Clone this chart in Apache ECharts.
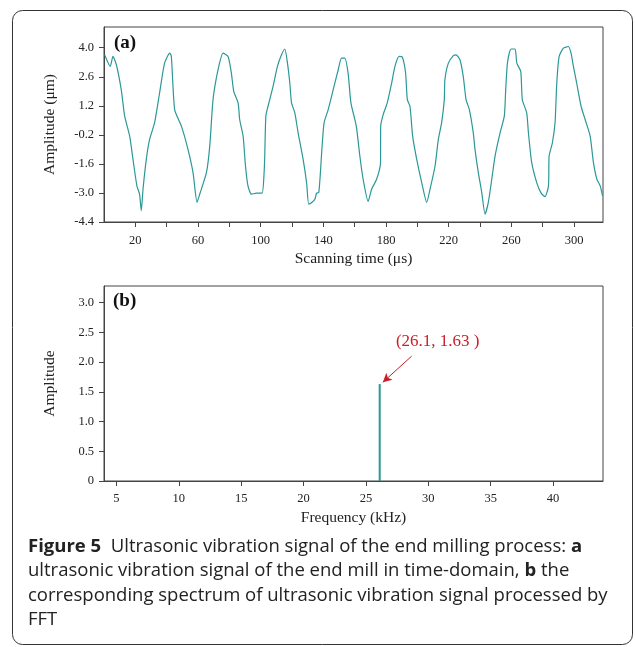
<!DOCTYPE html>
<html><head><meta charset="utf-8">
<script src="https://cdn.jsdelivr.net/npm/echarts@6/dist/echarts.min.js"></script>
<style>html,body{margin:0;padding:0;background:#fff}#c{width:635px;height:647px}</style>
</head><body><div id="c"></div>
<script>
// (a) time-domain signal
const timeUs = [0.4,4.0,5.7,7.9,11,13.2,16.4,18.5,21.0,22.7,23.8,24.9,27.0,29.1,32.3,35.5,38.7,42.0,43,45.1,49.4,53.6,56.8,59.4,61.1,65.4,67.5,69.6,72.8,76.0,79.2,81.3,82.8,85.6,86.6,88.8,90.3,91.9,94.1,97.3,100.9,102.2,102.6,103.3,104.7,107.9,110.7,113.3,115.4,117.1,118.6,119.7,121.8,123.9,127.1,129.3,130.7,132.8,134.6,135.7,137.1,138.4,139.2,140.5,143.1,146.3,149.5,151.6,153.7,155.8,157.6,160.1,161.2,163.3,165.4,168.6,170.8,174.0,176.5,176.6,178.2,180.8,183.6,185.7,188.4,190.4,192.5,193.6,195.3,197.0,199.6,202.8,206.0,208.1,211.3,213.4,215.5,217.2,217.6,219.8,223.0,224.7,227.2,229.3,231.1,233.2,235.7,236.8,238.9,241.1,243.2,245.3,247.5,249.6,252.8,255.5,256.4,257.5,259.8,262.4,263.5,266.0,267.0,269.8,270.9,273.0,276.2,279.0,281.5,283.7,284.1,286.2,287.9,289.0,290.5,293.2,296.4,298.1,299.6,301.7,304.5,307.1,310.3,312.4,314.6,316.7,318.2];
const amplitudeUm = [3.66,3.1,3.58,3.18,1.98,0.70,-0.26,-1.38,-2.66,-3.06,-3.86,-2.82,-1.38,-0.42,0.39,1.83,3.27,3.74,3.58,1.02,0.22,-0.9,-2.01,-3.45,-3.06,-2.01,-0.74,1.5,2.94,3.74,3.58,2.78,1.9,1.34,0.54,-0.26,-1.70,-2.66,-3.06,-3.01,-3.01,-2.01,-1.22,0.70,1.18,2.14,3.10,3.66,3.94,3.26,2.30,1.34,0.86,-0.1,-1.38,-2.5,-3.54,-3.45,-3.3,-3.01,-2.97,-1.70,-0.74,0.39,1.02,1.98,2.94,3.5,3.5,2.78,1.34,0.54,0.15,-1.22,-2.34,-3.41,-2.82,-2.34,-1.54,0.22,0.78,1.34,2.30,3.10,3.58,3.55,2.78,1.5,1.18,-0.26,-1.38,-2.5,-3.45,-2.82,-1.7,-0.42,0.39,1.5,2.46,3.26,3.62,3.66,3.42,2.62,1.5,1.02,-0.1,-0.9,-2.01,-2.97,-4.02,-3.45,-2.34,-1.22,-0.1,0.70,1.98,3.26,3.94,3.94,3.26,2.86,1.5,0.86,-0.1,-1.54,-2.5,-3.01,-3.18,-2.66,-1.22,-0.58,0.39,2.30,3.58,3.98,4.06,3.74,3.10,2.30,1.18,0.54,-0.26,-1.54,-2.34,-2.66,-3.14];
const timeTickLabels = [20,60,100,140,180,220,260,300];
const timeTicks = [20,40,60,80,100,120,140,160,180,200,220,240,260,280,300];
const ampTickLabels = [-4.4,-3.0,-1.6,-0.2,1.2,2.6,4.0];
// (b) spectrum
const peakFreq = 26.1;
const peakAmp = 1.63;
const freqTickLabels = [5,10,15,20,25,30,35,40];
const specTickLabels = [0,0.5,1.0,1.5,2.0,2.5,3.0];

const serif = '"Liberation Serif","DejaVu Serif",serif';
const teal = '#2a9896';
const axisCol = '#444';
function valueAxis(extra){
  return Object.assign({
    type:'value', nameLocation:'middle',
    nameTextStyle:{fontFamily:serif, fontSize:15.5, color:'#222'},
    axisLine:{show:true, onZero:false, lineStyle:{color:axisCol, width:1}},
    axisTick:{show:true, length:5, inside:false, lineStyle:{color:axisCol}},
    axisLabel:{fontFamily:serif, fontSize:12.5, color:'#222', margin:9},
    splitLine:{show:false}
  }, extra);
}
const chart = echarts.init(document.getElementById('c'), null, {renderer:'canvas'});
const capFont = '18.5px "Open Sans"';
const capRich = {b:{fontWeight:'bold', fontFamily:'Open Sans', fontSize:18.5, fill:'#222'}};
chart.setOption({
  animation:false,
  backgroundColor:'#fff',
  grid:[
    {left:104, top:27, width:499, height:195, show:true, borderColor:axisCol, borderWidth:1, backgroundColor:'transparent'},
    {left:104, top:286, width:499, height:195, show:true, borderColor:axisCol, borderWidth:1, backgroundColor:'transparent'}
  ],
  xAxis:[
    valueAxis({gridIndex:0, min:0, max:318.5, name:'Scanning time (μs)', nameGap:29,
      axisTick:{show:true, length:5, lineStyle:{color:axisCol}, customValues:timeTicks},
      axisLabel:{fontFamily:serif, fontSize:12.5, color:'#222', margin:12, customValues:timeTickLabels}}),
    valueAxis({gridIndex:1, min:4, max:44, name:'Frequency (kHz)', nameGap:29,
      axisTick:{show:true, length:5, lineStyle:{color:axisCol}, customValues:freqTickLabels},
      axisLabel:{fontFamily:serif, fontSize:12.5, color:'#222', margin:11, customValues:freqTickLabels}})
  ],
  yAxis:[
    valueAxis({gridIndex:0, min:-4.4, max:5.0, name:'Amplitude (μm)', nameGap:46,
      axisTick:{show:true, length:5, lineStyle:{color:axisCol}, customValues:ampTickLabels},
      axisLabel:{fontFamily:serif, fontSize:12.5, color:'#222', margin:10, customValues:ampTickLabels,
        formatter:v=>v.toFixed(1)}}),
    valueAxis({gridIndex:1, min:0, max:3.28, name:'Amplitude', nameGap:46,
      axisTick:{show:true, length:5, lineStyle:{color:axisCol}, customValues:specTickLabels},
      axisLabel:{fontFamily:serif, fontSize:12.5, color:'#222', margin:10, customValues:specTickLabels,
        formatter:v=>v===0?'0':v.toFixed(1)}})
  ],
  series:[
    {type:'line', xAxisIndex:0, yAxisIndex:0, showSymbol:false, smooth:0.2,
      lineStyle:{color:teal, width:1.2}, itemStyle:{color:teal},
      data: timeUs.map((t,i)=>[t, amplitudeUm[i]])},
    {type:'bar', xAxisIndex:1, yAxisIndex:1, barWidth:2, itemStyle:{color:teal},
      data:[[peakFreq, peakAmp]],
      markLine:{silent:true, symbol:['none','arrow'], symbolSize:[7,9],
        lineStyle:{color:'#c8202a', width:1, type:'solid'}, label:{show:false},
        data:[[{coord:[28.66,2.10]},{coord:[26.35,1.66]}]]},
      markPoint:{symbol:'circle', symbolSize:0, silent:true,
        label:{show:true, position:'inside', fontFamily:serif, fontSize:17, color:'#c8202a',
          formatter:`(${peakFreq}, ${peakAmp} )`},
        data:[{coord:[30.75,2.34]}]}}
  ],
  graphic:[
    {type:'rect', shape:{x:12.5, y:10.5, width:620, height:634, r:10}, style:{fill:'none', stroke:'#333', lineWidth:1}},
    {type:'text', left:114, top:34, style:{text:'(a)', font:'bold 19px '+serif, fill:'#111'}},
    {type:'text', left:113, top:292, style:{text:'(b)', font:'bold 19px '+serif, fill:'#111'}},
    {type:'text', left:28, top:537, style:{text:'{b|Figure 5}  Ultrasonic vibration signal of the end milling process: {b|a}',
      font:capFont, fill:'#222', rich:capRich}},
    {type:'text', left:28, top:561, style:{text:'ultrasonic vibration signal of the end mill in time-domain, {b|b} the',
      font:capFont, fill:'#222', rich:capRich}},
    {type:'text', left:28, top:586, style:{text:'corresponding spectrum of ultrasonic vibration signal processed by',
      font:capFont, fill:'#222'}},
    {type:'text', left:28, top:610, style:{text:'FFT', font:capFont, fill:'#222'}}
  ]
});
</script></body></html>
